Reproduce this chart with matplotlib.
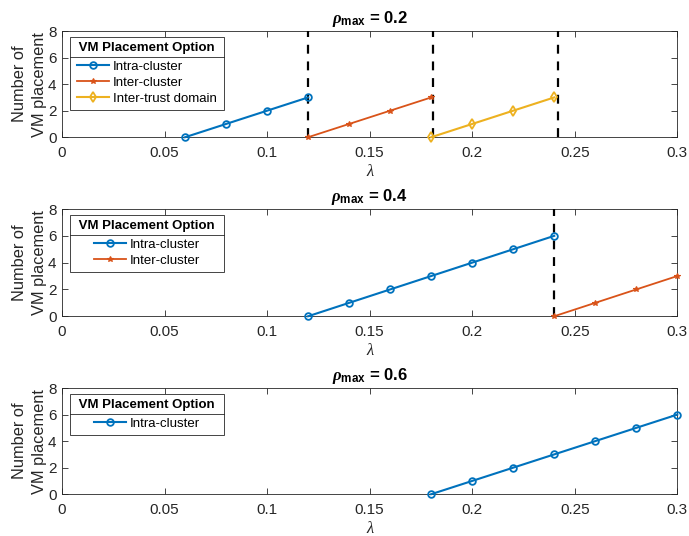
import numpy as np
import matplotlib
matplotlib.use('Agg')
import matplotlib.pyplot as plt
from matplotlib.lines import Line2D

plt.rcParams['font.family'] = ['Liberation Sans', 'DejaVu Sans']
plt.rcParams['mathtext.fontset'] = 'custom'
plt.rcParams['mathtext.rm'] = 'Liberation Sans'
plt.rcParams['mathtext.it'] = 'Liberation Serif:italic:bold'
plt.rcParams['mathtext.bf'] = 'Liberation Sans:bold'

blue = '#0072BD'
orange = '#D95319'
yellow = '#EDB120'

rho_values = ['0.2', '0.4', '0.6']

# rho_max = 0.2
intra_x_1 = [0.06, 0.08, 0.10, 0.12]
intra_y_1 = [0, 1, 2, 3]
inter_x_1 = [0.12, 0.14, 0.16, 0.18]
inter_y_1 = [0, 1, 2, 3]
trust_x_1 = [0.18, 0.20, 0.22, 0.24]
trust_y_1 = [0, 1, 2, 3]
dash_x_1 = [0.12, 0.181, 0.242]

# rho_max = 0.4
intra_x_2 = [0.12, 0.14, 0.16, 0.18, 0.20, 0.22, 0.24]
intra_y_2 = [0, 1, 2, 3, 4, 5, 6]
inter_x_2 = [0.24, 0.26, 0.28, 0.30]
inter_y_2 = [0, 1, 2, 3]
dash_x_2 = [0.24]

# rho_max = 0.6
intra_x_3 = [0.18, 0.20, 0.22, 0.24, 0.26, 0.28, 0.30]
intra_y_3 = [0, 1, 2, 3, 4, 5, 6]

xticks = [0, 0.05, 0.1, 0.15, 0.2, 0.25, 0.3]
xticklabels = ['0', '0.05', '0.1', '0.15', '0.2', '0.25', '0.3']
yticks = [0, 2, 4, 6, 8]

fig = plt.figure(figsize=(6.89, 5.36), dpi=100)
positions = [[0.090, 0.744, 0.893, 0.198],
             [0.090, 0.410, 0.893, 0.200],
             [0.090, 0.078, 0.893, 0.198]]
axes = [fig.add_axes(p) for p in positions]

def intra(ax, x, y):
    ax.plot(x, y, '-o', color=blue, lw=1.5, ms=4.8, mfc='none', mew=1.3, label='Intra-cluster', clip_on=False, zorder=4)

def inter(ax, x, y):
    ax.plot(x, y, '-*', color=orange, lw=1.3, ms=4.3, mew=0.8, label='Inter-cluster', clip_on=False, zorder=4)

def trust(ax, x, y):
    ax.plot(x, y, '-d', color=yellow, lw=1.5, ms=5.5, mfc='none', mew=1.3, label='Inter-trust domain', clip_on=False, zorder=4)

ax = axes[0]
intra(ax, intra_x_1, intra_y_1)
inter(ax, inter_x_1, inter_y_1)
trust(ax, trust_x_1, trust_y_1)
for d in dash_x_1:
    ax.axvline(d, color='black', ls=(0, (4, 3.5)), lw=1.6, zorder=3)

ax = axes[1]
intra(ax, intra_x_2, intra_y_2)
inter(ax, inter_x_2, inter_y_2)
for d in dash_x_2:
    ax.axvline(d, color='black', ls=(0, (4, 3.5)), lw=1.6, zorder=3)

ax = axes[2]
intra(ax, intra_x_3, intra_y_3)

legends = []
for ax, r in zip(axes, rho_values):
    ax.set_xlim(0, 0.3)
    ax.set_ylim(0, 8)
    ax.set_xticks(xticks)
    ax.set_xticklabels(xticklabels)
    ax.set_yticks(yticks)
    ax.tick_params(direction='in', top=True, right=True, labelsize=11, colors='#262626', length=4, width=0.6)
    ax.tick_params(axis='x', pad=6)
    ax.tick_params(axis='y', pad=4)
    for s in ax.spines.values():
        s.set_color('#262626')
        s.set_linewidth(0.6)
    ax.set_title(r'$\rho_{\mathbf{max}}$ = ' + r, fontsize=12, fontweight='bold', pad=6)
    ax.set_xlabel('λ', fontsize=12, fontfamily='Liberation Serif', style='italic', labelpad=3, color='#262626')
    ax.set_ylabel('Number of\nVM placement', fontsize=11.8, linespacing=1.4, labelpad=1, color='#262626')
    leg = ax.legend(loc='upper left', bbox_to_anchor=(0.013, 0.945), title=' VM Placement Option ',
                    fontsize=9.5, title_fontproperties={'weight': 'bold', 'size': 9.5},
                    fancybox=False, edgecolor='#262626', framealpha=1, borderpad=0.4,
                    labelspacing=0.3, handlelength=2.4, handletextpad=0.3, borderaxespad=0)
    leg.get_frame().set_linewidth(0.6)
    leg._legend_box.sep = 4.5
    legends.append(leg)

# separator line below the legend title, like MATLAB
fig.canvas.draw()
inv = fig.transFigure.inverted()
for leg in legends:
    fb = leg.get_frame().get_window_extent()
    tb = leg.get_title().get_window_extent()
    hb = leg._legend_handle_box.get_window_extent()
    yline = (tb.y0 + hb.y1) / 2
    (x0, y0) = inv.transform((fb.x0, yline))
    (x1, _) = inv.transform((fb.x1, yline))
    fig.add_artist(Line2D([x0, x1], [y0, y0], color='#262626', lw=0.6))

fig.savefig('out.png', dpi=100)
